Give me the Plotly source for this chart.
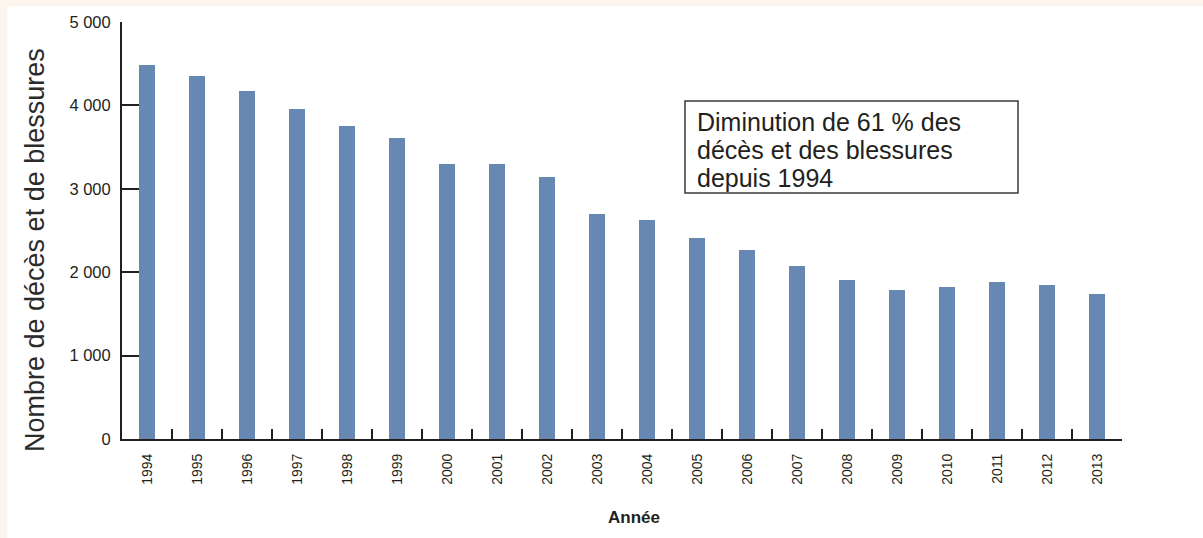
import plotly.graph_objects as go

# dane
annees = ["1994", "1995", "1996", "1997", "1998", "1999", "2000", "2001", "2002", "2003",
          "2004", "2005", "2006", "2007", "2008", "2009", "2010", "2011", "2012", "2013"]
victimes = [4484, 4353, 4173, 3957, 3753, 3609, 3297, 3297, 3141, 2698,
            2626, 2410, 2266, 2074, 1906, 1787, 1823, 1883, 1847, 1739]
y_ticks = [0, 1000, 2000, 3000, 4000, 5000]
encadre = ["Diminution de 61 % des", "décès et des blessures", "depuis 1994"]

BAR = "#6788b2"
INK = "#231f20"
FONT = "Liberation Sans"

W, H = 1203, 538
L, R, T, B = 122, 81, 22, 99


def px_x(px):
    return (px - L) / (W - L - R)


def px_y(py):
    return (H - B - py) / (H - T - B)


fig = go.Figure(go.Bar(x=annees, y=victimes, marker_color=BAR, width=0.32,
                       marker_line_width=0))

fig.update_layout(
    width=W, height=H,
    margin=dict(l=L, r=R, t=T, b=B),
    paper_bgcolor="white", plot_bgcolor="white",
    separators=", ",
    showlegend=False,
    font=dict(family=FONT, color=INK),
)

fig.update_xaxes(
    type="category", range=[-0.5, 19.5],
    showline=True, linecolor=INK, linewidth=2,
    ticks="inside", tickson="boundaries", ticklen=10, tickwidth=2, tickcolor=INK,
    tickangle=-90, tickfont=dict(size=14, color=INK), ticklabelstandoff=7,
    showgrid=False, zeroline=False,
)
fig.update_yaxes(
    range=[0, 5000], tickvals=y_ticks, tickformat=",d",
    showline=True, linecolor=INK, linewidth=2,
    ticks="inside", ticklen=25, tickwidth=2, tickcolor=INK,
    tickfont=dict(size=16.5, color=INK), ticklabelstandoff=6,
    showgrid=False, zeroline=False, layer="below traces",
)

# cadre beige léger en haut et à gauche
fig.add_shape(type="rect", xref="paper", yref="paper", x0=px_x(0), x1=px_x(W),
              y0=px_y(6), y1=px_y(0), fillcolor="#fbf5ee", line_width=0, layer="below")
fig.add_shape(type="rect", xref="paper", yref="paper", x0=px_x(0), x1=px_x(7),
              y0=px_y(H), y1=px_y(0), fillcolor="#fbf5ee", line_width=0, layer="below")

# titre de l'axe Y
fig.add_annotation(text="Nombre de décès et de blessures", xref="paper", yref="paper",
                   x=px_x(35), y=px_y(250), xanchor="center", yanchor="middle",
                   textangle=-90, showarrow=False,
                   font=dict(size=27, color="#2b2b2b", family=FONT))
# titre de l'axe X
fig.add_annotation(text="<b>Année</b>", xref="paper", yref="paper",
                   x=px_x(634), y=px_y(517), xanchor="center", yanchor="middle",
                   showarrow=False, font=dict(size=17, color=INK, family=FONT))

# encadré
fig.add_shape(type="rect", xref="paper", yref="paper", x0=px_x(685), x1=px_x(1018),
              y0=px_y(193), y1=px_y(101),
              line=dict(color="#3a3a3a", width=1.5), fillcolor="white")
for i, ligne in enumerate(encadre):
    fig.add_annotation(text=ligne, xref="paper", yref="paper",
                       x=px_x(695), y=px_y(122 + 28 * i),
                       xanchor="left", yanchor="middle", align="left", showarrow=False,
                       font=dict(size=25, color=INK, family=FONT))

fig.write_html("out.html", config={"displayModeBar": False},
               post_script="document.body.style.margin='0';")
